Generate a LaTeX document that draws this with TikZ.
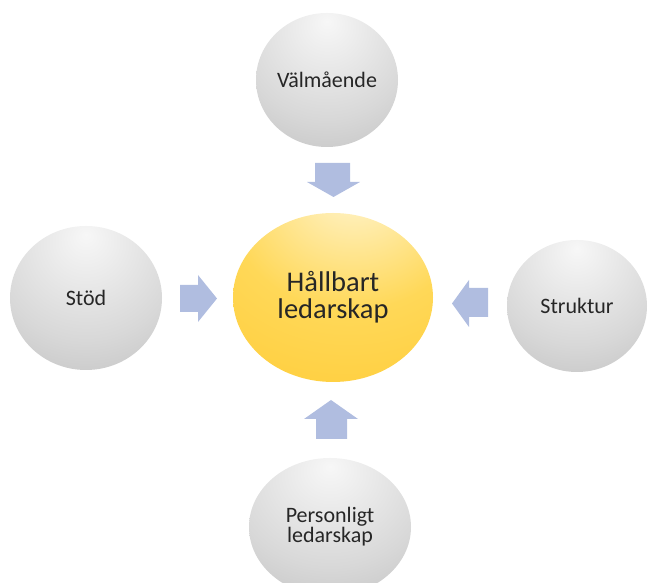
\documentclass[tikz,border=0pt]{standalone}
\usepackage{fontspec}
\setmainfont{Carlito}
\usepackage{tikz}
\usetikzlibrary{shapes.geometric}
\usepackage{xcolor}

\definecolor{arrowblue}{RGB}{176,189,224}
\definecolor{goldlight}{RGB}{255,247,218}
\definecolor{goldmid}{RGB}{255,216,88}
\definecolor{golddark}{RGB}{255,194,28}
\definecolor{greylight}{RGB}{247,247,247}
\definecolor{greymid}{RGB}{216,216,216}
\definecolor{greydark}{RGB}{162,162,162}

\pgfdeclareradialshading{satshade}{\pgfpoint{0bp}{22bp}}{color(0bp)=(greylight); color(30bp)=(greymid); color(72bp)=(greydark); color(100bp)=(greydark)}
\pgfdeclareradialshading{coreshade}{\pgfpoint{6bp}{36bp}}{color(0bp)=(goldlight); color(30bp)=(goldmid); color(78bp)=(golddark); color(110bp)=(golddark)}

\begin{document}
\begin{tikzpicture}[x=1pt, y=1pt,
  sat/.style={ellipse, inner sep=0pt, shade, shading=satshade, align=center,
    font=\fontsize{22}{20}\selectfont, text=black!85},
  core/.style={ellipse, inner sep=0pt, shade, shading=coreshade, align=center,
    font=\fontsize{28.5}{27}\selectfont, text=black!85},
  blockarrow/.style={fill=arrowblue, draw=none}]

\useasboundingbox (0,0) rectangle (649,583);

% the four themes round the centre
\node[sat, minimum width=142pt, minimum height=134pt] (valm) at (327,503) {Välmående};
\node[sat, minimum width=152pt, minimum height=144pt] (stod) at (86,285) {Stöd};
\node[sat, minimum width=140pt, minimum height=132pt] (strukt) at (577,277) {Struktur};
\node[sat, minimum width=162pt, minimum height=138pt] (pers) at (330,56) {Personligt\\ledarskap};

\node[core, minimum width=200pt, minimum height=169pt] (hall) at (333,285.5) {Hållbart\\ledarskap};

% block arrows pointing inwards
\fill[blockarrow] (315,420) -- (350,420) -- (350,401) -- (360,401) -- (333.5,386)
  -- (307,401) -- (315,401) -- cycle;
\fill[blockarrow] (180,298) -- (198,298) -- (198,308) -- (217,284.5) -- (198,261)
  -- (198,271) -- (180,271) -- cycle;
\fill[blockarrow] (488,295) -- (469,295) -- (469,303) -- (452,279.5) -- (469,256)
  -- (469,266) -- (488,266) -- cycle;
\fill[blockarrow] (316,144) -- (347,144) -- (347,164) -- (358,164) -- (331,183)
  -- (304,164) -- (316,164) -- cycle;
\end{tikzpicture}
\end{document}
